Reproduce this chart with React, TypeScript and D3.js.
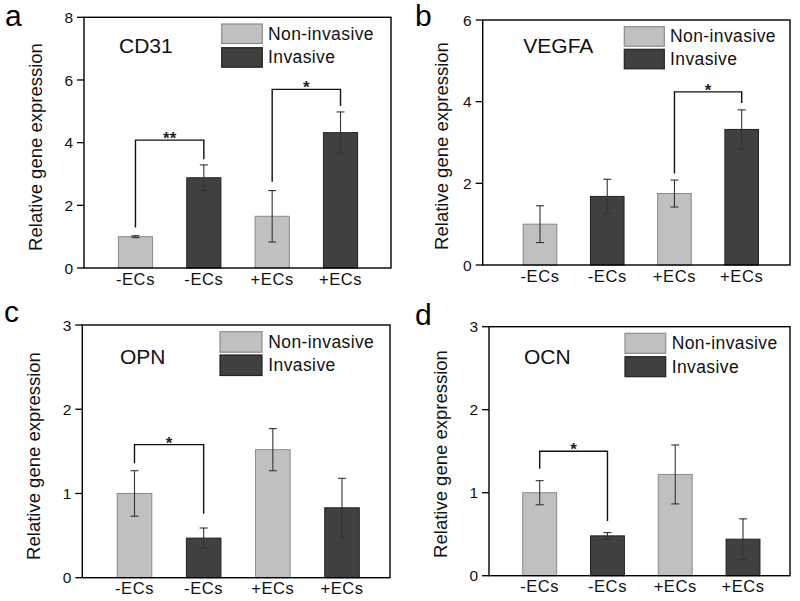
import React from "react";
import * as d3 from "d3";

// ---------- data ----------
const categories = ["-ECs", "-ECs", "+ECs", "+ECs"];
const seriesNames = ["Non-invasive", "Invasive"];
const barSeries = [0, 1, 0, 1]; // which series each bar belongs to

const cd31Means = [1.0, 2.88, 1.65, 4.32];
const cd31Errors = [0.03, 0.41, 0.82, 0.66];
const cd31Ticks = [0, 2, 4, 6, 8];

const vegfaMeans = [1.0, 1.68, 1.75, 3.32];
const vegfaErrors = [0.45, 0.42, 0.33, 0.48];
const vegfaTicks = [0, 2, 4, 6];

const opnMeans = [1.0, 0.47, 1.52, 0.83];
const opnErrors = [0.27, 0.12, 0.25, 0.35];
const opnTicks = [0, 1, 2, 3];

const ocnMeans = [1.0, 0.48, 1.22, 0.44];
const ocnErrors = [0.145, 0.04, 0.355, 0.245];
const ocnTicks = [0, 1, 2, 3];

// significance brackets: from bar, to bar, left leg start, top, right leg start (data units)
const cd31Brackets = [
  { from: 0, to: 1, left: 1.29, top: 4.08, right: 3.47, label: "**" },
  { from: 2, to: 3, left: 2.75, top: 5.7, right: 5.17, label: "*" },
];
const vegfaBrackets = [{ from: 2, to: 3, left: 2.24, top: 4.24, right: 3.97, label: "*" }];
const opnBrackets = [{ from: 0, to: 1, left: 1.36, top: 1.58, right: 0.76, label: "*" }];
const ocnBrackets = [{ from: 0, to: 1, left: 1.29, top: 1.5, right: 0.66, label: "*" }];

const yLabel = "Relative gene expression";

// ---------- layout ----------
const panels = [
  {
    letter: "a", gene: "CD31", means: cd31Means, errors: cd31Errors, ticks: cd31Ticks, brackets: cd31Brackets,
    frame: { x0: 84, x1: 391, y0: 17.3, y1: 268 }, bandRange: [101.3, 374.7],
    letterPos: [5, 26], genePos: [119, 52.5], yLabelPos: [42, 147],
    legend: { x: 221.7, y1: 24, y2: 47.7, w: 40.6, h: 19.5, tx: 268 },
  },
  {
    letter: "b", gene: "VEGFA", means: vegfaMeans, errors: vegfaErrors, ticks: vegfaTicks, brackets: vegfaBrackets,
    frame: { x0: 482.7, x1: 790, y0: 20, y1: 265 }, bandRange: [506.4, 775.3],
    letterPos: [415, 26], genePos: [523.3, 52.5], yLabelPos: [448, 146],
    legend: { x: 624.3, y1: 26.7, y2: 49.3, w: 40, h: 19.5, tx: 670 },
  },
  {
    letter: "c", gene: "OPN", means: opnMeans, errors: opnErrors, ticks: opnTicks, brackets: opnBrackets,
    frame: { x0: 82.3, x1: 390, y0: 325, y1: 577.7 }, bandRange: [99.9, 376.6],
    letterPos: [4, 322], genePos: [120, 363.5], yLabelPos: [40, 456],
    legend: { x: 220, y1: 331.7, y2: 355, w: 42, h: 20.5, tx: 268.3 },
  },
  {
    letter: "d", gene: "OCN", means: ocnMeans, errors: ocnErrors, ticks: ocnTicks, brackets: ocnBrackets,
    frame: { x0: 489, x1: 790, y0: 326.7, y1: 575.7 }, bandRange: [505.8, 776.9],
    letterPos: [415, 325], genePos: [524, 363.5], yLabelPos: [447, 454],
    legend: { x: 625, y1: 333.3, y2: 356.7, w: 40.7, h: 20, tx: 671.7 },
  },
];

const FILLS = ["#c0c0c0", "#404040"];
const STROKES = ["#8a8a8a", "#222222"];
const FONT = "Arial, 'Liberation Sans', Helvetica, sans-serif";

function Panel({ p }: { p: any }) {
  const { frame } = p;
  const yMax = p.ticks[p.ticks.length - 1];
  const y = d3.scaleLinear().domain([0, yMax]).range([frame.y1, frame.y0]);
  const x = d3
    .scaleBand<number>()
    .domain(d3.range(categories.length))
    .range(p.bandRange)
    .paddingInner(0.5)
    .paddingOuter(0.25);
  const bw = x.bandwidth();
  const cx = (i: number) => (x(i) as number) + bw / 2;

  return (
    <g>
      {/* panel letter */}
      <text x={p.letterPos[0]} y={p.letterPos[1]} fontSize={30} fontFamily={FONT} fill="#000">
        {p.letter}
      </text>
      {/* bars */}
      {p.means.map((m: number, i: number) => (
        <rect
          key={"b" + i}
          x={x(i)}
          y={y(m)}
          width={bw}
          height={y(0) - y(m)}
          fill={FILLS[barSeries[i]]}
          stroke={STROKES[barSeries[i]]}
          strokeWidth={1}
        />
      ))}
      {/* error bars */}
      {p.means.map((m: number, i: number) => {
        const e = p.errors[i];
        const c = cx(i);
        return (
          <g key={"e" + i} stroke="#333" strokeWidth={1.1}>
            <line x1={c} x2={c} y1={y(m + e)} y2={y(m - e)} />
            <line x1={c - 4} x2={c + 4} y1={y(m + e)} y2={y(m + e)} />
            <line x1={c - 4} x2={c + 4} y1={y(m - e)} y2={y(m - e)} />
          </g>
        );
      })}
      {/* frame */}
      <rect
        x={frame.x0}
        y={frame.y0}
        width={frame.x1 - frame.x0}
        height={frame.y1 - frame.y0}
        fill="none"
        stroke="#000"
        strokeWidth={1.4}
      />
      {/* y ticks */}
      {p.ticks.map((t: number) => (
        <g key={"t" + t}>
          <line x1={frame.x0 - 7} x2={frame.x0} y1={y(t)} y2={y(t)} stroke="#000" strokeWidth={1.3} />
          <text
            x={frame.x0 - 11}
            y={y(t)}
            dy="0.36em"
            textAnchor="end"
            fontSize={15.5}
            fontFamily={FONT}
            fill="#111"
          >
            {t}
          </text>
        </g>
      ))}
      {/* x labels */}
      {categories.map((c, i) => (
        <text
          key={"x" + i}
          x={cx(i)}
          y={frame.y1 + 16.5}
          textAnchor="middle"
          fontSize={16.5}
          letterSpacing={0.6}
          fontFamily={FONT}
          fill="#111"
        >
          {c}
        </text>
      ))}
      {/* y label */}
      <text
        transform={`translate(${p.yLabelPos[0]},${p.yLabelPos[1]}) rotate(-90)`}
        textAnchor="middle"
        fontSize={18.5}
        fontFamily={FONT}
        fill="#111"
      >
        {yLabel}
      </text>
      {/* gene name */}
      <text x={p.genePos[0]} y={p.genePos[1]} fontSize={21} fontFamily={FONT} fill="#111">
        {p.gene}
      </text>
      {/* legend */}
      {seriesNames.map((s, k) => {
        const yy = k === 0 ? p.legend.y1 : p.legend.y2;
        return (
          <g key={"l" + k}>
            <rect
              x={p.legend.x}
              y={yy}
              width={p.legend.w}
              height={p.legend.h}
              fill={FILLS[k]}
              stroke={STROKES[k]}
              strokeWidth={1.2}
            />
            <text
              x={p.legend.tx}
              y={yy + p.legend.h / 2 + 6}
              fontSize={17.5}
              letterSpacing={0.4}
              fontFamily={FONT}
              fill="#111"
            >
              {s}
            </text>
          </g>
        );
      })}
      {/* significance brackets */}
      {p.brackets.map((b: any, k: number) => {
        const xl = cx(b.from);
        const xr = cx(b.to);
        const path = d3.path();
        path.moveTo(xl, y(b.left));
        path.lineTo(xl, y(b.top));
        path.lineTo(xr, y(b.top));
        path.lineTo(xr, y(b.right));
        return (
          <g key={"s" + k}>
            <path d={path.toString()} fill="none" stroke="#111" strokeWidth={1.4} />
            <text
              x={(xl + xr) / 2}
              y={y(b.top) + 4}
              textAnchor="middle"
              fontSize={17}
              fontWeight="bold"
              fontFamily={FONT}
              fill="#222"
            >
              {b.label}
            </text>
          </g>
        );
      })}
    </g>
  );
}

export default function App() {
  return (
    <svg width={800} height={601} style={{ position: "absolute", left: 0, top: 0, background: "#fff" }}>
      <rect width={800} height={601} fill="#fff" />
      {panels.map((p) => (
        <Panel key={p.letter} p={p} />
      ))}
    </svg>
  );
}
